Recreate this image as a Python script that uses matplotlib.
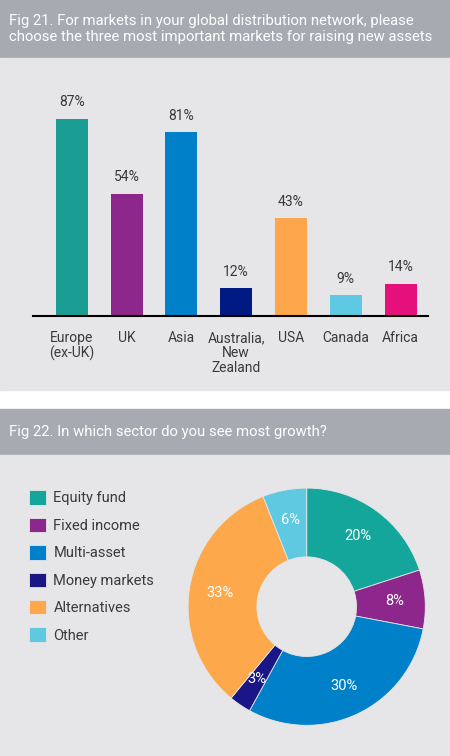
import matplotlib
matplotlib.use("Agg")
import matplotlib.pyplot as plt
from matplotlib.patches import Rectangle

plt.rcParams['font.family'] = ['Roboto', 'DejaVu Sans']

# --- data ---
markets = ['Europe\n(ex-UK)', 'UK', 'Asia', 'Australia,\nNew\nZealand', 'USA', 'Canada', 'Africa']
market_pct = [87, 54, 81, 12, 43, 9, 14]
market_colors = ['#1a9e93', '#8e278b', '#0080c9', '#001a83', '#fda64b', '#5ec9e2', '#e6107b']

sectors = ['Equity fund', 'Fixed income', 'Multi-asset', 'Money markets', 'Alternatives', 'Other']
sector_pct = [20, 8, 30, 3, 33, 6]
sector_colors = ['#14a69b', '#8e278b', '#0080c9', '#1b1685', '#fda84b', '#60c9e2']

title1 = 'Fig 21. For markets in your global distribution network, please\nchoose the three most important markets for raising new assets'
title2 = 'Fig 22. In which sector do you see most growth?'

W, H = 450, 756
HEADER = '#a6abb2'
PANEL = '#e6e6e8'
TXT = '#3a3a3a'

fig = plt.figure(figsize=(W / 100, H / 100), dpi=100)
fig.patch.set_facecolor('white')


def band(top, bottom, color):
    fig.add_artist(Rectangle((0, 1 - bottom / H), 1, (bottom - top) / H,
                             transform=fig.transFigure, color=color, zorder=0))


def px_axes(left, top, right, bottom):
    return fig.add_axes([left / W, 1 - bottom / H, (right - left) / W, (bottom - top) / H])


band(0, 58, HEADER)
band(58, 390, PANEL)
band(409, 455, HEADER)
band(455, H, PANEL)

fig.text(9 / W, 1 - 29 / H, title1, color='white', fontsize=10.7, va='center',
         ha='left', linespacing=1.2)
fig.text(9 / W, 1 - 432 / H, title2, color='white', fontsize=10.7, va='center', ha='left')

# --- bar chart ---
ax = px_axes(33, 90, 428, 315.6)
ax.patch.set_alpha(0)
x = range(len(markets))
bars = ax.bar(x, market_pct, width=0.584, color=market_colors)
ax.bar_label(bars, labels=[f'{v}%' for v in market_pct], padding=7, fontsize=10, color=TXT)
ax.set_xlim(-0.706, 6.5)
ax.set_ylim(0, 99.8)
ax.set_xticks(list(x))
ax.set_xticklabels(markets, fontsize=10, color=TXT, linespacing=1.1, va='top')
ax.tick_params(axis='x', length=0, pad=11)
ax.set_yticks([])
for s in ['left', 'right', 'top']:
    ax.spines[s].set_visible(False)
ax.spines['bottom'].set_linewidth(1.5)
ax.spines['bottom'].set_color('black')

# --- donut ---
cx, cy, r = 306.7, 606.7, 118.6
ax2 = px_axes(cx - r, cy - r, cx + r, cy + r)
ax2.patch.set_alpha(0)
wedges, _, autotexts = ax2.pie(sector_pct, colors=sector_colors, startangle=90, counterclock=False,
                               radius=1, autopct='%d%%', pctdistance=0.74,
                               wedgeprops=dict(width=0.58, edgecolor=PANEL, linewidth=0.6),
                               textprops=dict(color='white', fontsize=10.5))
ax2.set_xlim(-1, 1)
ax2.set_ylim(-1, 1)
ax2.set_aspect('equal')
ax2.axis('off')

fig.legend(wedges, sectors, loc='upper left', bbox_to_anchor=(22 / W, 1 - 483 / H),
           frameon=False, fontsize=10.5, handlelength=1.15, handleheight=1.15,
           handletextpad=0.5, labelspacing=0.84, borderpad=0, labelcolor=TXT)

fig.savefig('out.png', dpi=100)
